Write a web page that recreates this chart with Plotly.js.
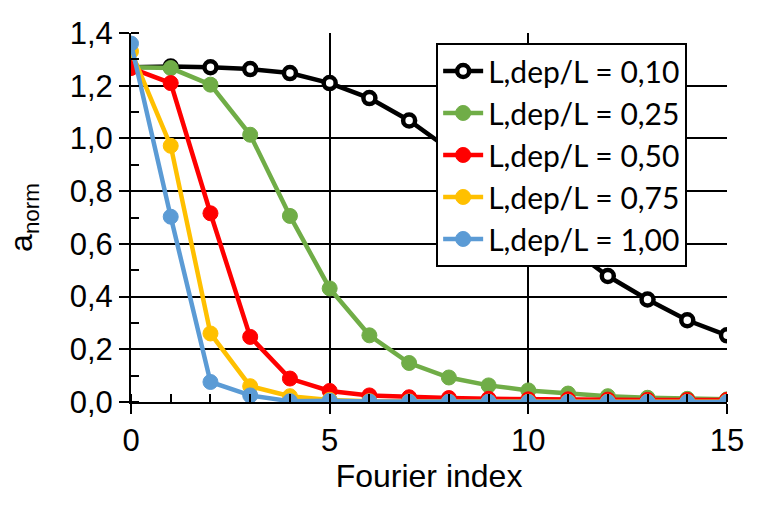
<!DOCTYPE html>
<html>
<head>
<meta charset="utf-8">
<script src="https://cdn.plot.ly/plotly-3.0.1.min.js"></script>
<style>html,body{margin:0;padding:0;background:#fff;}#chart{width:758px;height:509px;}</style>
</head>
<body>
<div id="chart"></div>
<script>
const fourierIndex = [0,1,2,3,4,5,6,7,8,9,10,11,12,13,14,15];
const ratio010 = [1.27,1.273,1.270,1.263,1.248,1.210,1.153,1.068,0.96,0.84,0.71,0.59,0.478,0.389,0.310,0.253];
const ratio025 = [1.27,1.267,1.204,1.014,0.706,0.431,0.253,0.148,0.093,0.063,0.044,0.032,0.022,0.016,0.012,0.010];
const ratio050 = [1.267,1.21,0.716,0.247,0.089,0.042,0.025,0.018,0.015,0.012,0.010,0.010,0.009,0.008,0.008,0.008];
const ratio075 = [1.33,0.972,0.26,0.06,0.022,0.008,0.003,0.002,0.001,0.001,0.001,0.001,0.001,0.001,0.001,0.001];
const ratio100 = [1.36,0.703,0.076,0.025,0.003,0.005,0.002,0.001,0.001,0.001,0.000,0.000,0.000,0.000,0.000,0.000];
const seriesNames = ["L,dep/L = 0,10","L,dep/L = 0,25","L,dep/L = 0,50","L,dep/L = 0,75","L,dep/L = 1,00"];
const seriesColors = ["#000000","#70AD47","#FF0000","#FFC000","#5B9BD5"];
const seriesData = [ratio010, ratio025, ratio050, ratio075, ratio100];

const traces = seriesData.map((ys, i) => ({
  x: fourierIndex, y: ys, name: seriesNames[i], type: 'scatter', mode: 'lines+markers',
  line: {color: seriesColors[i], width: 4.5},
  marker: {symbol: 'circle', size: i === 0 ? 12 : 15, color: i === 0 ? '#ffffff' : seriesColors[i],
           line: {color: seriesColors[i], width: i === 0 ? 4.5 : 1}}
}));

const axisFont = "Liberation Sans, Arial, sans-serif";
const legendFont = "Lato, Carlito, Calibri, sans-serif";
const layout = {
  width: 758, height: 509,
  margin: {l: 131, r: 31, t: 33, b: 107},
  paper_bgcolor: '#fff', plot_bgcolor: '#fff',
  separators: ',.',
  showlegend: true,
  legend: {x: 0.512, y: 0.973, xanchor: 'left', yanchor: 'top',
           bgcolor: '#fff', bordercolor: '#000', borderwidth: 2,
           font: {family: legendFont, size: 30, color: '#000'}, tracegroupgap: 0, itemwidth: 40},
  xaxis: {range: [0, 15], tickvals: [0,5,10,15], ticktext: ['0','5','10','15'],
          showgrid: true, gridcolor: '#000', gridwidth: 2,
          showline: true, linecolor: '#000', linewidth: 2,
          ticks: 'outside', ticklen: 10, tickwidth: 2, tickcolor: '#000',
          minor: {dtick: 1, ticks: 'inside', ticklen: 8, tickwidth: 2, tickcolor: '#000', showgrid: false},
          tickfont: {family: axisFont, size: 31, color: '#000'},
          zeroline: false, mirror: false,
          title: {text: 'Fourier index', font: {family: axisFont, size: 32, color: '#000'}, standoff: 5}},
  yaxis: {range: [0, 1.4], dtick: 0.2, tickformat: '.1f',
          showgrid: true, gridcolor: '#000', gridwidth: 2,
          showline: true, linecolor: '#000', linewidth: 2,
          ticks: 'outside', ticklen: 10, tickwidth: 2, tickcolor: '#000',
          minor: {dtick: 0.1, ticks: 'inside', ticklen: 8, tickwidth: 2, tickcolor: '#000', showgrid: false},
          tickfont: {family: axisFont, size: 31, color: '#000'},
          zeroline: false,
          title: {text: 'a<sub>norm</sub>', font: {family: axisFont, size: 32, color: '#000'}, standoff: 27}}
};
Plotly.newPlot('chart', traces, layout, {displayModeBar: false, staticPlot: true});
</script>
</body>
</html>
